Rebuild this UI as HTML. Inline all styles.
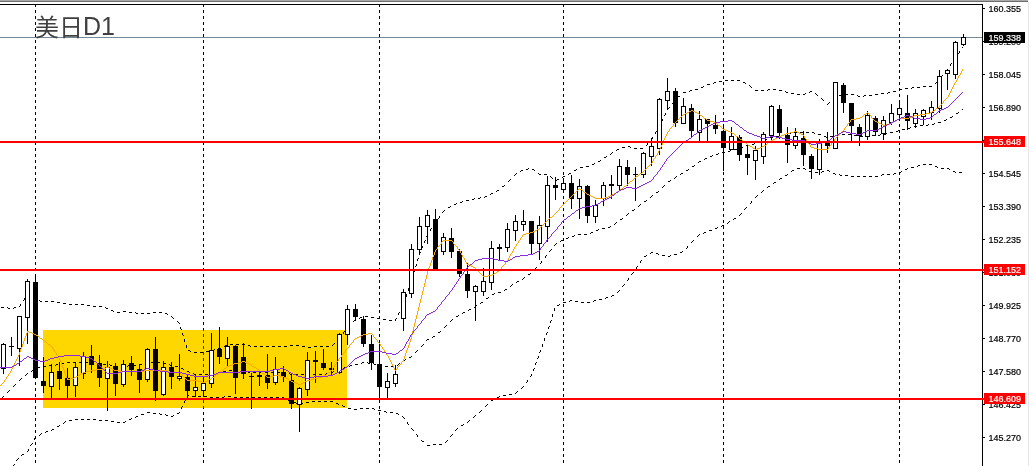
<!DOCTYPE html>
<html lang="zh"><head><meta charset="utf-8"><title>美日D1</title>
<style>html,body{margin:0;padding:0;background:#fff;overflow:hidden}body{width:1030px;height:466px;position:relative;font-family:"Liberation Sans","Noto Sans CJK SC",sans-serif}svg{position:absolute;left:0;top:0;display:block}.t{font-family:"Liberation Sans","Noto Sans CJK SC",sans-serif}</style></head><body>
<svg width="1030" height="466" viewBox="0 0 1030 466">
<rect x="0" y="0" width="1030" height="466" fill="#fff"/>
<rect x="0" y="0" width="1028" height="1" fill="#a9a9a9"/>
<rect x="0" y="1" width="1028" height="1" fill="#6d6d6d"/>
<rect x="1028" y="2" width="1" height="464" fill="#e6e6e6"/>
<g shape-rendering="crispEdges">
<clipPath id="c"><rect x="0" y="5" width="982" height="461"/></clipPath>
<g clip-path="url(#c)">
<rect x="43" y="330" width="304" height="78" fill="#ffd700"/>
<path d="M35.5 4v3M35.5 10v3M35.5 16v3M35.5 22v3M35.5 28v3M35.5 34v3M35.5 40v3M35.5 46v3M35.5 52v3M35.5 58v3M35.5 64v3M35.5 70v3M35.5 76v3M35.5 82v3M35.5 88v3M35.5 94v3M35.5 100v3M35.5 106v3M35.5 112v3M35.5 118v3M35.5 124v3M35.5 130v3M35.5 136v3M35.5 142v3M35.5 148v3M35.5 154v3M35.5 160v3M35.5 166v3M35.5 172v3M35.5 178v3M35.5 184v3M35.5 190v3M35.5 196v3M35.5 202v3M35.5 208v3M35.5 214v3M35.5 220v3M35.5 226v3M35.5 232v3M35.5 238v3M35.5 244v3M35.5 250v3M35.5 256v3M35.5 262v3M35.5 268v3M35.5 274v3M35.5 280v3M35.5 286v3M35.5 292v3M35.5 298v3M35.5 304v3M35.5 310v3M35.5 316v3M35.5 322v3M35.5 328v3M35.5 334v3M35.5 340v3M35.5 346v3M35.5 352v3M35.5 358v3M35.5 364v3M35.5 370v3M35.5 376v3M35.5 382v3M35.5 388v3M35.5 394v3M35.5 400v3M35.5 406v3M35.5 412v3M35.5 418v3M35.5 424v3M35.5 430v3M35.5 436v3M35.5 442v3M35.5 448v3M35.5 454v3M35.5 460v3" fill="none" stroke="#000" stroke-width="1"/>
<path d="M203.5 4v3M203.5 10v3M203.5 16v3M203.5 22v3M203.5 28v3M203.5 34v3M203.5 40v3M203.5 46v3M203.5 52v3M203.5 58v3M203.5 64v3M203.5 70v3M203.5 76v3M203.5 82v3M203.5 88v3M203.5 94v3M203.5 100v3M203.5 106v3M203.5 112v3M203.5 118v3M203.5 124v3M203.5 130v3M203.5 136v3M203.5 142v3M203.5 148v3M203.5 154v3M203.5 160v3M203.5 166v3M203.5 172v3M203.5 178v3M203.5 184v3M203.5 190v3M203.5 196v3M203.5 202v3M203.5 208v3M203.5 214v3M203.5 220v3M203.5 226v3M203.5 232v3M203.5 238v3M203.5 244v3M203.5 250v3M203.5 256v3M203.5 262v3M203.5 268v3M203.5 274v3M203.5 280v3M203.5 286v3M203.5 292v3M203.5 298v3M203.5 304v3M203.5 310v3M203.5 316v3M203.5 322v3M203.5 328v2M203.5 408v1M203.5 412v3M203.5 418v3M203.5 424v3M203.5 430v3M203.5 436v3M203.5 442v3M203.5 448v3M203.5 454v3M203.5 460v3" fill="none" stroke="#000" stroke-width="1"/>
<path d="M203.5 330v1M203.5 334v3M203.5 340v3M203.5 346v3M203.5 352v3M203.5 358v3M203.5 364v3M203.5 370v3M203.5 376v3M203.5 382v3M203.5 388v3M203.5 394v3M203.5 400v3M203.5 406v2" fill="none" stroke="#0028ff" stroke-width="1"/>
<path d="M379.5 4v3M379.5 10v3M379.5 16v3M379.5 22v3M379.5 28v3M379.5 34v3M379.5 40v3M379.5 46v3M379.5 52v3M379.5 58v3M379.5 64v3M379.5 70v3M379.5 76v3M379.5 82v3M379.5 88v3M379.5 94v3M379.5 100v3M379.5 106v3M379.5 112v3M379.5 118v3M379.5 124v3M379.5 130v3M379.5 136v3M379.5 142v3M379.5 148v3M379.5 154v3M379.5 160v3M379.5 166v3M379.5 172v3M379.5 178v3M379.5 184v3M379.5 190v3M379.5 196v3M379.5 202v3M379.5 208v3M379.5 214v3M379.5 220v3M379.5 226v3M379.5 232v3M379.5 238v3M379.5 244v3M379.5 250v3M379.5 256v3M379.5 262v3M379.5 268v3M379.5 274v3M379.5 280v3M379.5 286v3M379.5 292v3M379.5 298v3M379.5 304v3M379.5 310v3M379.5 316v3M379.5 322v3M379.5 328v3M379.5 334v3M379.5 340v3M379.5 346v3M379.5 352v3M379.5 358v3M379.5 364v3M379.5 370v3M379.5 376v3M379.5 382v3M379.5 388v3M379.5 394v3M379.5 400v3M379.5 406v3M379.5 412v3M379.5 418v3M379.5 424v3M379.5 430v3M379.5 436v3M379.5 442v3M379.5 448v3M379.5 454v3M379.5 460v3" fill="none" stroke="#000" stroke-width="1"/>
<path d="M563.5 4v3M563.5 10v3M563.5 16v3M563.5 22v3M563.5 28v3M563.5 34v3M563.5 40v3M563.5 46v3M563.5 52v3M563.5 58v3M563.5 64v3M563.5 70v3M563.5 76v3M563.5 82v3M563.5 88v3M563.5 94v3M563.5 100v3M563.5 106v3M563.5 112v3M563.5 118v3M563.5 124v3M563.5 130v3M563.5 136v3M563.5 142v3M563.5 148v3M563.5 154v3M563.5 160v3M563.5 166v3M563.5 172v3M563.5 178v3M563.5 184v3M563.5 190v3M563.5 196v3M563.5 202v3M563.5 208v3M563.5 214v3M563.5 220v3M563.5 226v3M563.5 232v3M563.5 238v3M563.5 244v3M563.5 250v3M563.5 256v3M563.5 262v3M563.5 268v3M563.5 274v3M563.5 280v3M563.5 286v3M563.5 292v3M563.5 298v3M563.5 304v3M563.5 310v3M563.5 316v3M563.5 322v3M563.5 328v3M563.5 334v3M563.5 340v3M563.5 346v3M563.5 352v3M563.5 358v3M563.5 364v3M563.5 370v3M563.5 376v3M563.5 382v3M563.5 388v3M563.5 394v3M563.5 400v3M563.5 406v3M563.5 412v3M563.5 418v3M563.5 424v3M563.5 430v3M563.5 436v3M563.5 442v3M563.5 448v3M563.5 454v3M563.5 460v3" fill="none" stroke="#000" stroke-width="1"/>
<path d="M723.5 4v3M723.5 10v3M723.5 16v3M723.5 22v3M723.5 28v3M723.5 34v3M723.5 40v3M723.5 46v3M723.5 52v3M723.5 58v3M723.5 64v3M723.5 70v3M723.5 76v3M723.5 82v3M723.5 88v3M723.5 94v3M723.5 100v3M723.5 106v3M723.5 112v3M723.5 118v3M723.5 124v3M723.5 130v3M723.5 136v3M723.5 142v3M723.5 148v3M723.5 154v3M723.5 160v3M723.5 166v3M723.5 172v3M723.5 178v3M723.5 184v3M723.5 190v3M723.5 196v3M723.5 202v3M723.5 208v3M723.5 214v3M723.5 220v3M723.5 226v3M723.5 232v3M723.5 238v3M723.5 244v3M723.5 250v3M723.5 256v3M723.5 262v3M723.5 268v3M723.5 274v3M723.5 280v3M723.5 286v3M723.5 292v3M723.5 298v3M723.5 304v3M723.5 310v3M723.5 316v3M723.5 322v3M723.5 328v3M723.5 334v3M723.5 340v3M723.5 346v3M723.5 352v3M723.5 358v3M723.5 364v3M723.5 370v3M723.5 376v3M723.5 382v3M723.5 388v3M723.5 394v3M723.5 400v3M723.5 406v3M723.5 412v3M723.5 418v3M723.5 424v3M723.5 430v3M723.5 436v3M723.5 442v3M723.5 448v3M723.5 454v3M723.5 460v3" fill="none" stroke="#000" stroke-width="1"/>
<path d="M899.5 4v3M899.5 10v3M899.5 16v3M899.5 22v3M899.5 28v3M899.5 34v3M899.5 40v3M899.5 46v3M899.5 52v3M899.5 58v3M899.5 64v3M899.5 70v3M899.5 76v3M899.5 82v3M899.5 88v3M899.5 94v3M899.5 100v3M899.5 106v3M899.5 112v3M899.5 118v3M899.5 124v3M899.5 130v3M899.5 136v3M899.5 142v3M899.5 148v3M899.5 154v3M899.5 160v3M899.5 166v3M899.5 172v3M899.5 178v3M899.5 184v3M899.5 190v3M899.5 196v3M899.5 202v3M899.5 208v3M899.5 214v3M899.5 220v3M899.5 226v3M899.5 232v3M899.5 238v3M899.5 244v3M899.5 250v3M899.5 256v3M899.5 262v3M899.5 268v3M899.5 274v3M899.5 280v3M899.5 286v3M899.5 292v3M899.5 298v3M899.5 304v3M899.5 310v3M899.5 316v3M899.5 322v3M899.5 328v3M899.5 334v3M899.5 340v3M899.5 346v3M899.5 352v3M899.5 358v3M899.5 364v3M899.5 370v3M899.5 376v3M899.5 382v3M899.5 388v3M899.5 394v3M899.5 400v3M899.5 406v3M899.5 412v3M899.5 418v3M899.5 424v3M899.5 430v3M899.5 436v3M899.5 442v3M899.5 448v3M899.5 454v3M899.5 460v3" fill="none" stroke="#000" stroke-width="1"/>
<rect x="0" y="37" width="982" height="1" fill="#778899"/>
<path d="M20.5 304v2M24.5 298v2M180.5 327v2M182.5 333v2M184.5 339v3M186.5 345v3M343.5 332v2M395.5 319v2M398.5 313v2M401.5 307v2M404.5 300v3M406.5 294v3M408.5 288v3M410.5 282v3M412.5 276v3M414.5 270v2M416.5 264v2M417.5 259v2M419.5 253v2M422.5 246v2M424.5 241v2M427.5 234v2M430.5 229v2M434.5 223v2M439.5 216v2M647.5 143v2M652.5 137v2M655.5 132v2M659.5 125v2M662.5 119v2M665.5 113v2M673.5 101v2M941.5 76v2M950.5 64v2M954.5 58v2M959.5 51v2M962 47.5h1M958 53.5h1M955 57.5h1M951 63.5h1M947 69.5h1M946 70.5h1M945 71.5h1M942 75.5h1M725 80.5h3M731 80.5h3M737 80.5h3M719 81.5h3M937 81.5h1M714 82.5h2M743 82.5h2M936 82.5h1M713 83.5h1M745 83.5h1M935 83.5h1M707 84.5h3M749 85.5h1M703 86.5h1M750 86.5h1M923 86.5h3M929 86.5h3M701 87.5h2M751 87.5h1M912 87.5h2M917 87.5h3M905 88.5h3M911 88.5h1M695 89.5h3M768 89.5h2M773 89.5h3M899 89.5h3M690 90.5h2M755 90.5h3M761 90.5h3M767 90.5h1M779 90.5h3M689 91.5h1M785 91.5h1M810 91.5h2M893 91.5h3M683 92.5h3M786 92.5h2M809 92.5h1M888 92.5h2M791 93.5h3M805 93.5h1M815 93.5h1M881 93.5h3M887 93.5h1M797 94.5h3M803 94.5h2M816 94.5h1M845 94.5h3M851 94.5h3M875 94.5h3M817 95.5h1M839 95.5h3M857 95.5h1M864 95.5h2M869 95.5h3M678 96.5h2M835 96.5h1M858 96.5h2M863 96.5h1M677 97.5h1M834 97.5h1M821 98.5h1M833 98.5h1M822 99.5h1M823 100.5h1M829 102.5h1M672 103.5h1M828 103.5h1M827 104.5h1M669 107.5h1M668 108.5h1M667 109.5h1M664 115.5h1M661 121.5h1M658 127.5h1M656 131.5h1M651 139.5h1M646 145.5h1M628 146.5h2M622 147.5h3M630 147.5h1M634 148.5h3M640 148.5h3M617 149.5h2M616 150.5h1M612 152.5h1M611 153.5h1M610 154.5h1M606 156.5h1M604 157.5h2M600 160.5h1M598 161.5h2M594 163.5h1M592 164.5h2M586 166.5h3M580 167.5h3M528 168.5h1M526 169.5h2M532 169.5h2M576 169.5h1M521 170.5h2M534 170.5h1M574 170.5h2M520 171.5h1M516 173.5h1M538 173.5h1M569 173.5h2M515 174.5h1M539 174.5h2M544 174.5h3M568 174.5h1M514 175.5h1M550 176.5h1M563 176.5h2M551 177.5h1M562 177.5h1M552 178.5h1M510 179.5h1M557 179.5h2M509 180.5h1M556 180.5h1M508 181.5h1M504 185.5h1M502 186.5h2M497 190.5h2M496 191.5h1M491 193.5h2M490 194.5h1M485 196.5h2M480 197.5h1M484 197.5h1M474 198.5h1M478 198.5h2M472 199.5h2M466 200.5h3M462 201.5h1M460 202.5h2M456 203.5h1M454 204.5h2M450 206.5h1M448 207.5h2M444 210.5h1M443 211.5h1M442 212.5h1M438 218.5h1M435 222.5h1M431 228.5h1M426 236.5h1M425 240.5h1M421 248.5h1M420 252.5h1M418 258.5h1M415 266.5h1M413 272.5h1M27 294.5h1M28 295.5h2M33 298.5h1M34 299.5h1M23 300.5h1M35 300.5h1M39 300.5h1M40 301.5h2M45 301.5h3M51 301.5h3M57 302.5h3M63 303.5h3M69 304.5h3M75 304.5h3M81 304.5h3M87 305.5h3M19 306.5h1M93 306.5h3M99 306.5h3M402 306.5h1M1 307.5h3M7 307.5h1M14 307.5h2M105 307.5h1M8 308.5h2M13 308.5h1M106 308.5h2M111 310.5h2M113 311.5h1M123 311.5h3M117 312.5h3M129 312.5h3M135 312.5h1M153 312.5h3M159 312.5h3M399 312.5h1M136 313.5h2M141 313.5h3M147 313.5h3M165 313.5h2M167 314.5h1M171 316.5h1M365 316.5h3M172 317.5h1M360 317.5h2M371 317.5h3M173 318.5h1M359 318.5h1M377 318.5h3M396 318.5h1M355 319.5h1M383 319.5h3M354 320.5h1M389 320.5h3M177 321.5h1M353 321.5h1M178 322.5h1M179 323.5h1M349 325.5h1M348 326.5h1M347 327.5h1M181 329.5h1M344 331.5h1M183 335.5h1M340 337.5h1M339 338.5h1M338 339.5h1M334 343.5h1M230 344.5h3M236 344.5h3M242 344.5h3M333 344.5h1M225 345.5h2M248 345.5h2M290 345.5h3M296 345.5h3M332 345.5h1M224 346.5h1M250 346.5h1M254 346.5h3M260 346.5h3M266 346.5h3M272 346.5h3M278 346.5h3M284 346.5h3M302 346.5h3M314 346.5h3M320 346.5h3M326 346.5h3M308 347.5h3M218 348.5h3M214 349.5h1M188 350.5h2M212 350.5h2M190 351.5h1M206 351.5h3M194 352.5h3M200 352.5h3" fill="none" stroke="#000" stroke-width="1"/>
<path d="M541.5 261v2M545.5 256v2M962 109.5h1M958 112.5h1M956 113.5h2M952 116.5h1M950 117.5h2M946 119.5h1M944 120.5h2M938 122.5h3M934 123.5h1M928 124.5h1M932 124.5h2M920 125.5h3M926 125.5h2M914 126.5h3M910 127.5h1M908 128.5h2M902 129.5h3M898 130.5h1M896 131.5h2M794 132.5h3M800 132.5h3M806 132.5h3M812 132.5h2M890 132.5h3M788 133.5h3M814 133.5h1M886 133.5h1M784 134.5h1M818 134.5h3M842 134.5h3M848 134.5h3M880 134.5h1M884 134.5h2M782 135.5h2M836 135.5h3M854 135.5h3M872 135.5h3M878 135.5h2M776 136.5h3M824 136.5h2M830 136.5h3M860 136.5h3M866 136.5h3M770 137.5h3M826 137.5h1M765 139.5h2M764 140.5h1M760 141.5h1M758 142.5h2M754 143.5h1M752 144.5h2M746 145.5h3M741 147.5h2M740 148.5h1M734 149.5h3M730 150.5h1M728 151.5h2M722 152.5h3M718 153.5h1M716 154.5h2M712 155.5h1M710 156.5h2M705 158.5h2M704 159.5h1M699 161.5h2M698 162.5h1M694 165.5h1M692 166.5h2M688 169.5h1M686 170.5h2M681 173.5h2M680 174.5h1M676 176.5h1M675 177.5h1M674 178.5h1M670 180.5h1M668 181.5h2M664 185.5h1M663 186.5h1M662 187.5h1M658 191.5h1M656 192.5h2M652 195.5h1M651 196.5h1M650 197.5h1M646 200.5h1M644 201.5h2M640 204.5h1M639 205.5h1M638 206.5h1M634 209.5h1M632 210.5h2M628 213.5h1M627 214.5h1M626 215.5h1M622 218.5h1M620 219.5h2M616 222.5h1M615 223.5h1M614 224.5h1M610 226.5h1M608 227.5h2M602 228.5h3M598 229.5h1M596 230.5h2M591 232.5h2M590 233.5h1M578 234.5h3M584 234.5h3M574 235.5h1M572 236.5h2M568 237.5h1M566 238.5h2M561 240.5h2M560 241.5h1M556 243.5h1M555 244.5h1M554 245.5h1M551 249.5h1M550 250.5h1M549 251.5h1M546 255.5h1M540 263.5h1M536 267.5h1M535 268.5h1M534 269.5h1M530 273.5h1M528 274.5h2M524 277.5h1M523 278.5h1M522 279.5h1M517 281.5h2M516 282.5h1M512 284.5h1M511 285.5h1M510 286.5h1M505 289.5h2M504 290.5h1M498 292.5h3M494 293.5h1M492 294.5h2M488 297.5h1M486 298.5h2M481 302.5h2M480 303.5h1M476 305.5h1M475 306.5h1M474 307.5h1M469 309.5h2M468 310.5h1M463 312.5h2M462 313.5h1M458 315.5h1M456 316.5h2M452 319.5h1M451 320.5h1M450 321.5h1M446 325.5h1M445 326.5h1M444 327.5h1M440 331.5h1M438 332.5h2M433 336.5h2M432 337.5h1M427 339.5h2M426 340.5h1M423 344.5h1M422 345.5h1M421 346.5h1M417 350.5h1M416 351.5h1M415 352.5h1M411 356.5h1M409 357.5h2M405 359.5h1M403 360.5h2M67 362.5h3M73 362.5h3M79 362.5h3M85 362.5h3M91 362.5h3M146 362.5h2M151 362.5h3M157 362.5h3M362 362.5h2M367 362.5h1M62 363.5h2M97 363.5h1M145 363.5h1M163 363.5h3M361 363.5h1M368 363.5h2M373 363.5h1M399 363.5h1M56 364.5h2M61 364.5h1M98 364.5h2M103 364.5h3M109 364.5h1M139 364.5h3M169 364.5h1M355 364.5h3M374 364.5h2M398 364.5h1M49 365.5h3M55 365.5h1M110 365.5h2M128 365.5h2M133 365.5h3M170 365.5h2M350 365.5h2M379 365.5h3M397 365.5h1M43 366.5h3M115 366.5h3M121 366.5h3M127 366.5h1M175 366.5h3M349 366.5h1M385 366.5h3M391 366.5h3M38 367.5h2M344 367.5h2M37 368.5h1M181 368.5h2M343 368.5h1M33 369.5h1M183 369.5h1M338 369.5h2M32 370.5h1M229 370.5h3M235 370.5h3M337 370.5h1M31 371.5h1M187 371.5h2M223 371.5h3M241 371.5h3M247 371.5h1M333 371.5h1M189 372.5h1M218 372.5h2M248 372.5h2M253 372.5h3M259 372.5h3M265 372.5h3M271 372.5h3M277 372.5h3M283 372.5h3M331 372.5h2M27 373.5h1M193 373.5h1M217 373.5h1M289 373.5h1M326 373.5h2M26 374.5h1M194 374.5h2M199 374.5h3M205 374.5h3M211 374.5h3M290 374.5h2M295 374.5h3M301 374.5h3M307 374.5h3M313 374.5h3M319 374.5h3M325 374.5h1M25 375.5h1M21 378.5h1M20 379.5h1M19 380.5h1M15 384.5h1M14 385.5h1M13 386.5h1M9 390.5h1M8 391.5h1M7 392.5h1M3 396.5h1M2 397.5h1M1 398.5h1" fill="none" stroke="#000" stroke-width="1"/>
<path d="M28.5 449v2M34.5 438v2M181.5 407v2M184.5 401v2M187.5 395v2M407.5 422v2M417.5 435v2M527.5 380v2M531.5 374v2M533.5 369v2M535.5 363v2M538.5 356v2M540.5 350v2M542.5 344v3M544.5 338v3M546.5 333v2M548.5 327v2M550.5 321v2M552.5 314v3M554.5 308v3M628.5 278v2M636.5 267v2M640.5 261v2M687.5 246v2M751.5 201v2M923 164.5h3M929 164.5h3M918 165.5h2M917 166.5h1M935 166.5h2M911 167.5h3M937 167.5h1M797 168.5h3M803 168.5h2M907 168.5h1M941 168.5h3M947 168.5h2M805 169.5h1M905 169.5h2M949 169.5h1M792 170.5h2M827 170.5h2M791 171.5h1M809 171.5h2M822 171.5h2M829 171.5h1M901 171.5h1M953 171.5h2M811 172.5h1M815 172.5h3M821 172.5h1M899 172.5h2M955 172.5h1M959 172.5h3M833 173.5h2M894 173.5h2M787 174.5h1M835 174.5h1M839 174.5h1M882 174.5h2M887 174.5h3M893 174.5h1M785 175.5h2M840 175.5h2M845 175.5h3M881 175.5h1M851 176.5h3M857 176.5h3M863 176.5h3M869 176.5h3M875 176.5h3M780 178.5h2M779 179.5h1M774 182.5h2M773 183.5h1M768 186.5h2M767 187.5h1M763 190.5h1M762 191.5h1M761 192.5h1M757 195.5h1M756 196.5h1M755 197.5h1M750 203.5h1M746 207.5h1M745 208.5h1M744 209.5h1M741 213.5h1M740 214.5h1M739 215.5h1M734 218.5h2M733 219.5h1M729 221.5h1M728 222.5h1M727 223.5h1M722 225.5h2M721 226.5h1M717 227.5h1M715 228.5h2M709 230.5h3M704 232.5h2M703 233.5h1M699 234.5h1M698 235.5h1M697 236.5h1M693 240.5h1M692 241.5h1M691 242.5h1M686 248.5h1M682 251.5h1M651 252.5h2M680 252.5h2M650 253.5h1M656 253.5h2M658 254.5h1M674 254.5h3M646 255.5h1M662 255.5h3M670 255.5h1M644 256.5h2M668 256.5h2M641 260.5h1M637 266.5h1M633 272.5h1M632 273.5h1M631 274.5h1M627 280.5h1M624 284.5h1M623 285.5h1M622 286.5h1M619 290.5h1M618 291.5h1M617 292.5h1M612 295.5h2M611 296.5h1M606 297.5h2M605 298.5h1M599 299.5h3M570 300.5h2M594 300.5h2M569 301.5h1M575 301.5h3M593 301.5h1M563 302.5h3M581 302.5h3M587 302.5h3M559 304.5h1M557 305.5h2M551 320.5h1M549 326.5h1M547 332.5h1M539 352.5h1M537 358.5h1M536 362.5h1M534 368.5h1M530 376.5h1M526 382.5h1M523 386.5h1M522 387.5h1M521 388.5h1M517 391.5h1M516 392.5h1M515 393.5h1M509 394.5h3M188 395.5h1M503 395.5h3M192 396.5h3M198 396.5h3M204 396.5h3M224 396.5h1M228 396.5h3M499 396.5h1M210 397.5h3M216 397.5h3M222 397.5h2M234 397.5h3M240 397.5h3M246 397.5h3M252 397.5h3M258 397.5h3M264 397.5h3M270 397.5h3M276 397.5h3M282 397.5h2M497 397.5h2M284 398.5h1M493 399.5h1M185 400.5h1M288 400.5h1M491 400.5h2M289 401.5h2M312 401.5h3M318 401.5h3M324 401.5h3M330 401.5h3M294 402.5h2M306 402.5h3M296 403.5h1M300 403.5h3M336 403.5h2M338 404.5h1M487 404.5h1M342 405.5h1M486 405.5h1M182 406.5h1M343 406.5h2M485 406.5h1M348 408.5h3M360 408.5h3M366 408.5h3M372 408.5h2M354 409.5h3M374 409.5h1M378 410.5h3M481 410.5h1M384 411.5h2M480 411.5h1M147 412.5h3M179 412.5h1M386 412.5h1M390 412.5h3M479 412.5h1M153 413.5h3M159 413.5h1M177 413.5h2M396 413.5h2M141 414.5h3M160 414.5h2M165 414.5h1M398 414.5h1M166 415.5h2M173 415.5h1M475 415.5h1M136 416.5h2M171 416.5h2M402 416.5h1M474 416.5h1M135 417.5h1M403 417.5h1M473 417.5h1M131 418.5h1M404 418.5h1M75 419.5h3M81 419.5h3M87 419.5h3M93 419.5h3M129 419.5h2M69 420.5h3M99 420.5h3M105 420.5h3M469 420.5h1M65 421.5h1M111 421.5h3M125 421.5h1M468 421.5h1M64 422.5h1M117 422.5h3M123 422.5h2M467 422.5h1M63 423.5h1M408 424.5h1M463 424.5h1M59 425.5h1M461 425.5h2M57 426.5h2M411 428.5h1M457 428.5h1M52 429.5h2M412 429.5h1M456 429.5h1M51 430.5h1M413 430.5h1M455 430.5h1M46 431.5h2M45 432.5h1M41 433.5h1M40 434.5h1M416 434.5h1M452 434.5h1M39 435.5h1M451 435.5h1M450 436.5h1M35 437.5h1M421 440.5h1M447 440.5h1M422 441.5h2M446 441.5h1M445 442.5h1M32 443.5h1M31 444.5h1M433 444.5h3M439 444.5h3M30 445.5h1M427 445.5h3M27 451.5h1M22 454.5h2M21 455.5h1M18 458.5h1M17 459.5h1M16 460.5h1M14 464.5h1M13 465.5h1M12 466.5h1" fill="none" stroke="#000" stroke-width="1"/>
<rect x="3" y="343" width="1" height="31" fill="#000"/>
<rect x="1" y="344" width="5" height="25" fill="#000"/>
<rect x="2" y="345" width="3" height="23" fill="#fff"/>
<rect x="11" y="337" width="1" height="19" fill="#000"/>
<rect x="9" y="346" width="5" height="1" fill="#000"/>
<rect x="19" y="316" width="1" height="50" fill="#000"/>
<rect x="17" y="316" width="5" height="33" fill="#000"/>
<rect x="18" y="317" width="3" height="31" fill="#fff"/>
<rect x="27" y="279" width="1" height="65" fill="#000"/>
<rect x="25" y="281" width="5" height="37" fill="#000"/>
<rect x="26" y="282" width="3" height="35" fill="#fff"/>
<rect x="35" y="274" width="1" height="105" fill="#000"/>
<rect x="33" y="282" width="5" height="96" fill="#000"/>
<rect x="43" y="357" width="1" height="36" fill="#000"/>
<rect x="41" y="381" width="5" height="5" fill="#000"/>
<rect x="51" y="364" width="1" height="35" fill="#000"/>
<rect x="49" y="372" width="5" height="15" fill="#000"/>
<rect x="50" y="373" width="3" height="13" fill="#fff"/>
<rect x="59" y="362" width="1" height="28" fill="#000"/>
<rect x="57" y="371" width="5" height="8" fill="#000"/>
<rect x="67" y="368" width="1" height="31" fill="#000"/>
<rect x="65" y="378" width="5" height="8" fill="#000"/>
<rect x="75" y="362" width="1" height="35" fill="#000"/>
<rect x="73" y="367" width="5" height="19" fill="#000"/>
<rect x="74" y="368" width="3" height="17" fill="#fff"/>
<rect x="83" y="352" width="1" height="27" fill="#000"/>
<rect x="81" y="356" width="5" height="18" fill="#000"/>
<rect x="82" y="357" width="3" height="16" fill="#fff"/>
<rect x="91" y="345" width="1" height="28" fill="#000"/>
<rect x="89" y="356" width="5" height="9" fill="#000"/>
<rect x="99" y="355" width="1" height="32" fill="#000"/>
<rect x="97" y="363" width="5" height="15" fill="#000"/>
<rect x="107" y="361" width="1" height="50" fill="#000"/>
<rect x="105" y="367" width="5" height="12" fill="#000"/>
<rect x="106" y="368" width="3" height="10" fill="#fff"/>
<rect x="115" y="363" width="1" height="33" fill="#000"/>
<rect x="113" y="366" width="5" height="18" fill="#000"/>
<rect x="123" y="360" width="1" height="27" fill="#000"/>
<rect x="121" y="364" width="5" height="21" fill="#000"/>
<rect x="122" y="365" width="3" height="19" fill="#fff"/>
<rect x="131" y="356" width="1" height="20" fill="#000"/>
<rect x="129" y="363" width="5" height="7" fill="#000"/>
<rect x="139" y="365" width="1" height="28" fill="#000"/>
<rect x="137" y="369" width="5" height="11" fill="#000"/>
<rect x="147" y="348" width="1" height="34" fill="#000"/>
<rect x="145" y="349" width="5" height="31" fill="#000"/>
<rect x="146" y="350" width="3" height="29" fill="#fff"/>
<rect x="155" y="337" width="1" height="64" fill="#000"/>
<rect x="153" y="349" width="5" height="42" fill="#000"/>
<rect x="163" y="361" width="1" height="35" fill="#000"/>
<rect x="161" y="367" width="5" height="28" fill="#000"/>
<rect x="162" y="368" width="3" height="26" fill="#fff"/>
<rect x="171" y="362" width="1" height="27" fill="#000"/>
<rect x="169" y="367" width="5" height="10" fill="#000"/>
<rect x="179" y="354" width="1" height="27" fill="#000"/>
<rect x="177" y="376" width="5" height="3" fill="#000"/>
<rect x="178" y="377" width="3" height="1" fill="#fff"/>
<rect x="187" y="374" width="1" height="25" fill="#000"/>
<rect x="185" y="377" width="5" height="14" fill="#000"/>
<rect x="195" y="375" width="1" height="22" fill="#000"/>
<rect x="193" y="387" width="5" height="4" fill="#000"/>
<rect x="194" y="388" width="3" height="2" fill="#fff"/>
<rect x="203" y="377" width="1" height="20" fill="#000"/>
<rect x="201" y="383" width="5" height="8" fill="#000"/>
<rect x="202" y="384" width="3" height="6" fill="#fff"/>
<rect x="211" y="333" width="1" height="55" fill="#000"/>
<rect x="209" y="350" width="5" height="34" fill="#000"/>
<rect x="210" y="351" width="3" height="32" fill="#fff"/>
<rect x="219" y="327" width="1" height="37" fill="#000"/>
<rect x="217" y="349" width="5" height="8" fill="#000"/>
<rect x="227" y="337" width="1" height="29" fill="#000"/>
<rect x="225" y="346" width="5" height="13" fill="#000"/>
<rect x="226" y="347" width="3" height="11" fill="#fff"/>
<rect x="235" y="345" width="1" height="49" fill="#000"/>
<rect x="233" y="346" width="5" height="32" fill="#000"/>
<rect x="243" y="343" width="1" height="36" fill="#000"/>
<rect x="241" y="357" width="5" height="17" fill="#000"/>
<rect x="251" y="373" width="1" height="36" fill="#000"/>
<rect x="249" y="376" width="5" height="1" fill="#000"/>
<rect x="259" y="372" width="1" height="14" fill="#000"/>
<rect x="257" y="375" width="5" height="2" fill="#000"/>
<rect x="267" y="354" width="1" height="35" fill="#000"/>
<rect x="265" y="375" width="5" height="8" fill="#000"/>
<rect x="275" y="357" width="1" height="28" fill="#000"/>
<rect x="273" y="369" width="5" height="14" fill="#000"/>
<rect x="274" y="370" width="3" height="12" fill="#fff"/>
<rect x="283" y="366" width="1" height="16" fill="#000"/>
<rect x="281" y="372" width="5" height="5" fill="#000"/>
<rect x="291" y="374" width="1" height="35" fill="#000"/>
<rect x="289" y="380" width="5" height="24" fill="#000"/>
<rect x="299" y="387" width="1" height="45" fill="#000"/>
<rect x="297" y="388" width="5" height="17" fill="#000"/>
<rect x="298" y="389" width="3" height="15" fill="#fff"/>
<rect x="307" y="352" width="1" height="44" fill="#000"/>
<rect x="305" y="360" width="5" height="30" fill="#000"/>
<rect x="306" y="361" width="3" height="28" fill="#fff"/>
<rect x="315" y="351" width="1" height="32" fill="#000"/>
<rect x="313" y="360" width="5" height="2" fill="#000"/>
<rect x="323" y="349" width="1" height="21" fill="#000"/>
<rect x="321" y="363" width="5" height="5" fill="#000"/>
<rect x="331" y="362" width="1" height="13" fill="#000"/>
<rect x="329" y="368" width="5" height="2" fill="#000"/>
<rect x="339" y="333" width="1" height="41" fill="#000"/>
<rect x="337" y="334" width="5" height="39" fill="#000"/>
<rect x="338" y="335" width="3" height="37" fill="#fff"/>
<rect x="347" y="305" width="1" height="40" fill="#000"/>
<rect x="345" y="309" width="5" height="26" fill="#000"/>
<rect x="346" y="310" width="3" height="24" fill="#fff"/>
<rect x="355" y="304" width="1" height="17" fill="#000"/>
<rect x="353" y="309" width="5" height="8" fill="#000"/>
<rect x="363" y="316" width="1" height="31" fill="#000"/>
<rect x="361" y="319" width="5" height="25" fill="#000"/>
<rect x="371" y="335" width="1" height="35" fill="#000"/>
<rect x="369" y="344" width="5" height="19" fill="#000"/>
<rect x="379" y="342" width="1" height="57" fill="#000"/>
<rect x="377" y="364" width="5" height="23" fill="#000"/>
<rect x="387" y="373" width="1" height="25" fill="#000"/>
<rect x="385" y="381" width="5" height="7" fill="#000"/>
<rect x="386" y="382" width="3" height="5" fill="#fff"/>
<rect x="395" y="365" width="1" height="22" fill="#000"/>
<rect x="393" y="374" width="5" height="10" fill="#000"/>
<rect x="394" y="375" width="3" height="8" fill="#fff"/>
<rect x="403" y="289" width="1" height="42" fill="#000"/>
<rect x="401" y="292" width="5" height="27" fill="#000"/>
<rect x="402" y="293" width="3" height="25" fill="#fff"/>
<rect x="411" y="244" width="1" height="54" fill="#000"/>
<rect x="409" y="249" width="5" height="45" fill="#000"/>
<rect x="410" y="250" width="3" height="43" fill="#fff"/>
<rect x="419" y="217" width="1" height="37" fill="#000"/>
<rect x="417" y="226" width="5" height="24" fill="#000"/>
<rect x="418" y="227" width="3" height="22" fill="#fff"/>
<rect x="427" y="210" width="1" height="34" fill="#000"/>
<rect x="425" y="215" width="5" height="12" fill="#000"/>
<rect x="426" y="216" width="3" height="10" fill="#fff"/>
<rect x="435" y="209" width="1" height="62" fill="#000"/>
<rect x="433" y="219" width="5" height="52" fill="#000"/>
<rect x="443" y="233" width="1" height="22" fill="#000"/>
<rect x="441" y="237" width="5" height="15" fill="#000"/>
<rect x="442" y="238" width="3" height="13" fill="#fff"/>
<rect x="451" y="228" width="1" height="30" fill="#000"/>
<rect x="449" y="238" width="5" height="14" fill="#000"/>
<rect x="459" y="249" width="1" height="28" fill="#000"/>
<rect x="457" y="251" width="5" height="23" fill="#000"/>
<rect x="467" y="263" width="1" height="35" fill="#000"/>
<rect x="465" y="274" width="5" height="17" fill="#000"/>
<rect x="475" y="285" width="1" height="36" fill="#000"/>
<rect x="473" y="286" width="5" height="6" fill="#000"/>
<rect x="474" y="287" width="3" height="4" fill="#fff"/>
<rect x="483" y="268" width="1" height="28" fill="#000"/>
<rect x="481" y="281" width="5" height="11" fill="#000"/>
<rect x="482" y="282" width="3" height="9" fill="#fff"/>
<rect x="491" y="241" width="1" height="49" fill="#000"/>
<rect x="489" y="248" width="5" height="35" fill="#000"/>
<rect x="490" y="249" width="3" height="33" fill="#fff"/>
<rect x="499" y="244" width="1" height="17" fill="#000"/>
<rect x="497" y="247" width="5" height="2" fill="#000"/>
<rect x="507" y="223" width="1" height="29" fill="#000"/>
<rect x="505" y="229" width="5" height="19" fill="#000"/>
<rect x="506" y="230" width="3" height="17" fill="#fff"/>
<rect x="515" y="215" width="1" height="26" fill="#000"/>
<rect x="513" y="221" width="5" height="10" fill="#000"/>
<rect x="514" y="222" width="3" height="8" fill="#fff"/>
<rect x="523" y="210" width="1" height="21" fill="#000"/>
<rect x="521" y="221" width="5" height="4" fill="#000"/>
<rect x="522" y="222" width="3" height="2" fill="#fff"/>
<rect x="531" y="221" width="1" height="33" fill="#000"/>
<rect x="529" y="221" width="5" height="23" fill="#000"/>
<rect x="539" y="216" width="1" height="44" fill="#000"/>
<rect x="537" y="225" width="5" height="19" fill="#000"/>
<rect x="538" y="226" width="3" height="17" fill="#fff"/>
<rect x="547" y="176" width="1" height="66" fill="#000"/>
<rect x="545" y="185" width="5" height="42" fill="#000"/>
<rect x="546" y="186" width="3" height="40" fill="#fff"/>
<rect x="555" y="177" width="1" height="23" fill="#000"/>
<rect x="553" y="185" width="5" height="3" fill="#000"/>
<rect x="563" y="178" width="1" height="12" fill="#000"/>
<rect x="561" y="183" width="5" height="7" fill="#000"/>
<rect x="562" y="184" width="3" height="5" fill="#fff"/>
<rect x="571" y="175" width="1" height="34" fill="#000"/>
<rect x="569" y="183" width="5" height="16" fill="#000"/>
<rect x="579" y="179" width="1" height="40" fill="#000"/>
<rect x="577" y="186" width="5" height="13" fill="#000"/>
<rect x="578" y="187" width="3" height="11" fill="#fff"/>
<rect x="587" y="185" width="1" height="38" fill="#000"/>
<rect x="585" y="186" width="5" height="30" fill="#000"/>
<rect x="595" y="200" width="1" height="23" fill="#000"/>
<rect x="593" y="205" width="5" height="12" fill="#000"/>
<rect x="594" y="206" width="3" height="10" fill="#fff"/>
<rect x="603" y="182" width="1" height="24" fill="#000"/>
<rect x="601" y="185" width="5" height="14" fill="#000"/>
<rect x="602" y="186" width="3" height="12" fill="#fff"/>
<rect x="611" y="175" width="1" height="24" fill="#000"/>
<rect x="609" y="184" width="5" height="2" fill="#000"/>
<rect x="619" y="159" width="1" height="31" fill="#000"/>
<rect x="617" y="166" width="5" height="20" fill="#000"/>
<rect x="618" y="167" width="3" height="18" fill="#fff"/>
<rect x="627" y="160" width="1" height="26" fill="#000"/>
<rect x="625" y="167" width="5" height="8" fill="#000"/>
<rect x="635" y="167" width="1" height="34" fill="#000"/>
<rect x="633" y="174" width="5" height="1" fill="#000"/>
<rect x="643" y="152" width="1" height="26" fill="#000"/>
<rect x="641" y="153" width="5" height="22" fill="#000"/>
<rect x="642" y="154" width="3" height="20" fill="#fff"/>
<rect x="651" y="138" width="1" height="28" fill="#000"/>
<rect x="649" y="146" width="5" height="11" fill="#000"/>
<rect x="650" y="147" width="3" height="9" fill="#fff"/>
<rect x="659" y="98" width="1" height="57" fill="#000"/>
<rect x="657" y="99" width="5" height="50" fill="#000"/>
<rect x="658" y="100" width="3" height="48" fill="#fff"/>
<rect x="667" y="78" width="1" height="31" fill="#000"/>
<rect x="665" y="91" width="5" height="10" fill="#000"/>
<rect x="666" y="92" width="3" height="8" fill="#fff"/>
<rect x="675" y="88" width="1" height="39" fill="#000"/>
<rect x="673" y="91" width="5" height="32" fill="#000"/>
<rect x="683" y="98" width="1" height="26" fill="#000"/>
<rect x="681" y="106" width="5" height="18" fill="#000"/>
<rect x="682" y="107" width="3" height="16" fill="#fff"/>
<rect x="691" y="104" width="1" height="34" fill="#000"/>
<rect x="689" y="108" width="5" height="23" fill="#000"/>
<rect x="699" y="111" width="1" height="31" fill="#000"/>
<rect x="697" y="119" width="5" height="14" fill="#000"/>
<rect x="698" y="120" width="3" height="12" fill="#fff"/>
<rect x="707" y="119" width="1" height="23" fill="#000"/>
<rect x="705" y="119" width="5" height="5" fill="#000"/>
<rect x="715" y="115" width="1" height="19" fill="#000"/>
<rect x="713" y="125" width="5" height="4" fill="#000"/>
<rect x="723" y="127" width="1" height="44" fill="#000"/>
<rect x="721" y="131" width="5" height="17" fill="#000"/>
<rect x="731" y="127" width="1" height="23" fill="#000"/>
<rect x="729" y="136" width="5" height="14" fill="#000"/>
<rect x="730" y="137" width="3" height="12" fill="#fff"/>
<rect x="739" y="135" width="1" height="26" fill="#000"/>
<rect x="737" y="137" width="5" height="18" fill="#000"/>
<rect x="747" y="145" width="1" height="30" fill="#000"/>
<rect x="745" y="154" width="5" height="4" fill="#000"/>
<rect x="755" y="146" width="1" height="34" fill="#000"/>
<rect x="753" y="150" width="5" height="11" fill="#000"/>
<rect x="754" y="151" width="3" height="9" fill="#fff"/>
<rect x="763" y="132" width="1" height="32" fill="#000"/>
<rect x="761" y="134" width="5" height="23" fill="#000"/>
<rect x="762" y="135" width="3" height="21" fill="#fff"/>
<rect x="771" y="105" width="1" height="36" fill="#000"/>
<rect x="769" y="106" width="5" height="30" fill="#000"/>
<rect x="770" y="107" width="3" height="28" fill="#fff"/>
<rect x="779" y="105" width="1" height="34" fill="#000"/>
<rect x="777" y="109" width="5" height="24" fill="#000"/>
<rect x="787" y="127" width="1" height="36" fill="#000"/>
<rect x="785" y="135" width="5" height="10" fill="#000"/>
<rect x="795" y="128" width="1" height="21" fill="#000"/>
<rect x="793" y="136" width="5" height="10" fill="#000"/>
<rect x="794" y="137" width="3" height="8" fill="#fff"/>
<rect x="803" y="131" width="1" height="35" fill="#000"/>
<rect x="801" y="138" width="5" height="17" fill="#000"/>
<rect x="811" y="154" width="1" height="25" fill="#000"/>
<rect x="809" y="156" width="5" height="13" fill="#000"/>
<rect x="819" y="139" width="1" height="36" fill="#000"/>
<rect x="817" y="141" width="5" height="29" fill="#000"/>
<rect x="818" y="142" width="3" height="27" fill="#fff"/>
<rect x="827" y="132" width="1" height="21" fill="#000"/>
<rect x="825" y="141" width="5" height="5" fill="#000"/>
<rect x="835" y="82" width="1" height="67" fill="#000"/>
<rect x="833" y="82" width="5" height="67" fill="#000"/>
<rect x="834" y="83" width="3" height="65" fill="#fff"/>
<rect x="843" y="83" width="1" height="30" fill="#000"/>
<rect x="841" y="85" width="5" height="18" fill="#000"/>
<rect x="851" y="103" width="1" height="39" fill="#000"/>
<rect x="849" y="103" width="5" height="23" fill="#000"/>
<rect x="859" y="124" width="1" height="22" fill="#000"/>
<rect x="857" y="127" width="5" height="9" fill="#000"/>
<rect x="867" y="111" width="1" height="29" fill="#000"/>
<rect x="865" y="115" width="5" height="22" fill="#000"/>
<rect x="866" y="116" width="3" height="20" fill="#fff"/>
<rect x="875" y="116" width="1" height="20" fill="#000"/>
<rect x="873" y="118" width="5" height="14" fill="#000"/>
<rect x="883" y="116" width="1" height="24" fill="#000"/>
<rect x="881" y="120" width="5" height="14" fill="#000"/>
<rect x="882" y="121" width="3" height="12" fill="#fff"/>
<rect x="891" y="104" width="1" height="21" fill="#000"/>
<rect x="889" y="113" width="5" height="10" fill="#000"/>
<rect x="890" y="114" width="3" height="8" fill="#fff"/>
<rect x="899" y="100" width="1" height="20" fill="#000"/>
<rect x="897" y="108" width="5" height="7" fill="#000"/>
<rect x="898" y="109" width="3" height="5" fill="#fff"/>
<rect x="907" y="95" width="1" height="35" fill="#000"/>
<rect x="905" y="113" width="5" height="8" fill="#000"/>
<rect x="915" y="109" width="1" height="19" fill="#000"/>
<rect x="913" y="113" width="5" height="11" fill="#000"/>
<rect x="914" y="114" width="3" height="9" fill="#fff"/>
<rect x="923" y="109" width="1" height="16" fill="#000"/>
<rect x="921" y="110" width="5" height="7" fill="#000"/>
<rect x="922" y="111" width="3" height="5" fill="#fff"/>
<rect x="931" y="101" width="1" height="19" fill="#000"/>
<rect x="929" y="107" width="5" height="6" fill="#000"/>
<rect x="930" y="108" width="3" height="4" fill="#fff"/>
<rect x="939" y="70" width="1" height="43" fill="#000"/>
<rect x="937" y="76" width="5" height="33" fill="#000"/>
<rect x="938" y="77" width="3" height="31" fill="#fff"/>
<rect x="947" y="69" width="1" height="21" fill="#000"/>
<rect x="945" y="70" width="5" height="4" fill="#000"/>
<rect x="946" y="71" width="3" height="2" fill="#fff"/>
<rect x="955" y="41" width="1" height="38" fill="#000"/>
<rect x="953" y="42" width="5" height="33" fill="#000"/>
<rect x="954" y="43" width="3" height="31" fill="#fff"/>
<rect x="963" y="34" width="1" height="12" fill="#000"/>
<rect x="961" y="37" width="5" height="8" fill="#000"/>
<rect x="962" y="38" width="3" height="6" fill="#fff"/>
<path d="M4.5 380v2M6.5 377v2M8.5 374v2M10.5 371v2M11.5 369v2M12.5 367v2M13.5 365v2M14.5 363v2M15.5 361v2M16.5 359v2M17.5 357v2M18.5 355v2M19.5 352v3M20.5 349v3M21.5 347v2M22.5 344v3M23.5 341v3M24.5 338v3M25.5 336v2M26.5 333v3M27.5 331v2M52.5 347v2M54.5 350v2M56.5 353v2M58.5 356v2M59.5 358v2M60.5 360v2M61.5 362v3M62.5 365v3M63.5 368v2M64.5 370v3M65.5 373v3M66.5 376v2M67.5 378v2M332.5 368v2M334.5 365v2M336.5 362v2M338.5 359v2M341.5 355v2M345.5 350v2M349.5 345v2M353.5 340v2M373.5 335v2M377.5 340v2M380.5 344v2M382.5 347v2M384.5 350v2M386.5 353v2M388.5 356v2M389.5 358v2M390.5 360v2M391.5 362v2M392.5 364v2M393.5 366v2M394.5 368v2M397.5 367v2M401.5 362v2M403.5 359v2M404.5 356v3M405.5 353v3M406.5 350v3M407.5 348v2M408.5 345v3M409.5 342v3M410.5 339v3M411.5 335v4M412.5 331v4M413.5 327v4M414.5 323v4M415.5 319v4M416.5 315v4M417.5 311v4M418.5 307v4M419.5 303v4M420.5 299v4M421.5 295v4M422.5 291v4M423.5 287v4M424.5 283v4M425.5 279v4M426.5 275v4M427.5 271v4M428.5 268v3M429.5 266v2M430.5 263v3M431.5 260v3M432.5 257v3M433.5 255v2M434.5 252v3M435.5 250v2M437.5 247v2M441.5 242v2M453.5 242v2M457.5 247v2M460.5 251v2M461.5 253v2M462.5 255v2M464.5 258v2M465.5 260v2M466.5 262v2M501.5 267v2M505.5 262v2M508.5 258v2M509.5 256v2M510.5 254v2M512.5 251v2M513.5 249v2M514.5 247v2M516.5 244v2M518.5 241v2M520.5 238v2M522.5 235v2M559.5 208v2M652.5 161v2M653.5 159v2M655.5 156v2M657.5 153v2M658.5 151v2M659.5 149v2M660.5 147v2M661.5 145v2M662.5 143v2M663.5 140v3M664.5 138v2M665.5 136v2M666.5 134v2M667.5 132v2M669.5 129v2M673.5 124v2M804.5 136v2M806.5 139v2M808.5 142v2M810.5 145v2M828.5 147v2M831.5 143v2M834.5 139v2M844.5 128v2M847.5 124v2M850.5 120v2M871.5 116v2M943.5 101v2M948.5 95v2M949.5 93v2M950.5 91v2M951.5 89v2M952.5 87v2M953.5 85v2M954.5 83v2M956.5 80v2M957.5 78v2M958.5 76v2M960.5 73v2M961.5 71v2M962.5 69v2M959 75.5h1M955 82.5h1M947 97.5h1M946 98.5h1M945 99.5h1M944 100.5h1M942 103.5h1M941 104.5h1M940 105.5h1M939 106.5h1M938 107.5h1M936 108.5h2M935 109.5h1M691 110.5h2M934 110.5h1M689 111.5h2M693 111.5h2M932 111.5h2M687 112.5h2M695 112.5h2M867 112.5h1M930 112.5h2M685 113.5h2M697 113.5h2M866 113.5h1M868 113.5h1M926 113.5h4M683 114.5h2M699 114.5h1M864 114.5h2M869 114.5h1M920 114.5h6M682 115.5h1M700 115.5h2M863 115.5h1M870 115.5h1M914 115.5h6M681 116.5h1M702 116.5h1M862 116.5h1M912 116.5h2M680 117.5h1M703 117.5h1M860 117.5h2M909 117.5h3M679 118.5h1M704 118.5h2M856 118.5h4M872 118.5h1M899 118.5h10M678 119.5h1M706 119.5h1M851 119.5h5M873 119.5h1M897 119.5h2M677 120.5h1M707 120.5h3M874 120.5h1M896 120.5h1M676 121.5h1M710 121.5h4M875 121.5h2M894 121.5h2M675 122.5h1M714 122.5h2M849 122.5h1M877 122.5h2M892 122.5h2M674 123.5h1M716 123.5h1M848 123.5h1M879 123.5h2M890 123.5h2M717 124.5h1M881 124.5h2M886 124.5h4M718 125.5h2M883 125.5h3M672 126.5h1M720 126.5h1M846 126.5h1M671 127.5h1M721 127.5h1M845 127.5h1M670 128.5h1M722 128.5h1M723 129.5h2M725 130.5h3M843 130.5h1M668 131.5h1M728 131.5h2M794 131.5h3M842 131.5h1M730 132.5h2M790 132.5h4M797 132.5h2M841 132.5h1M732 133.5h2M786 133.5h4M799 133.5h2M840 133.5h1M734 134.5h1M784 134.5h2M801 134.5h2M839 134.5h1M735 135.5h1M781 135.5h3M803 135.5h1M838 135.5h1M736 136.5h2M779 136.5h2M837 136.5h1M738 137.5h1M777 137.5h2M836 137.5h1M739 138.5h1M775 138.5h2M805 138.5h1M835 138.5h1M740 139.5h2M773 139.5h2M742 140.5h1M771 140.5h2M743 141.5h1M770 141.5h1M807 141.5h1M833 141.5h1M744 142.5h2M768 142.5h2M832 142.5h1M746 143.5h1M767 143.5h1M747 144.5h1M766 144.5h1M809 144.5h1M748 145.5h2M764 145.5h2M830 145.5h1M750 146.5h2M762 146.5h2M829 146.5h1M752 147.5h1M760 147.5h2M811 147.5h3M753 148.5h2M757 148.5h3M814 148.5h4M755 149.5h2M818 149.5h10M656 155.5h1M654 158.5h1M651 163.5h1M650 164.5h1M649 165.5h1M648 166.5h1M647 167.5h1M646 168.5h1M645 169.5h1M644 170.5h1M643 171.5h1M642 172.5h1M640 173.5h2M639 174.5h1M638 175.5h1M636 176.5h2M635 177.5h1M634 178.5h1M633 179.5h1M632 180.5h1M630 181.5h2M629 182.5h1M628 183.5h1M627 184.5h1M626 185.5h1M624 186.5h2M623 187.5h1M579 188.5h1M622 188.5h1M578 189.5h1M580 189.5h2M620 189.5h2M577 190.5h1M582 190.5h1M619 190.5h1M576 191.5h1M583 191.5h1M617 191.5h2M575 192.5h1M584 192.5h2M616 192.5h1M574 193.5h1M586 193.5h1M614 193.5h2M573 194.5h1M587 194.5h2M612 194.5h2M572 195.5h1M589 195.5h2M610 195.5h2M571 196.5h1M591 196.5h2M608 196.5h2M570 197.5h1M593 197.5h2M605 197.5h3M569 198.5h1M595 198.5h10M568 199.5h1M567 200.5h1M566 201.5h1M565 202.5h1M564 203.5h1M563 204.5h1M562 205.5h1M561 206.5h1M560 207.5h1M558 210.5h1M557 211.5h1M556 212.5h1M555 213.5h1M554 214.5h1M553 215.5h1M552 216.5h1M550 217.5h2M549 218.5h1M548 219.5h1M547 220.5h1M546 221.5h1M545 222.5h1M544 223.5h1M543 224.5h1M542 225.5h1M541 226.5h1M540 227.5h1M539 228.5h1M537 229.5h2M535 230.5h2M533 231.5h2M530 232.5h3M526 233.5h4M523 234.5h3M521 237.5h1M443 240.5h9M519 240.5h1M442 241.5h1M452 241.5h1M517 243.5h1M440 244.5h1M454 244.5h1M439 245.5h1M455 245.5h1M438 246.5h1M456 246.5h1M515 246.5h1M436 249.5h1M458 249.5h1M459 250.5h1M511 253.5h1M463 257.5h1M507 260.5h1M506 261.5h1M467 264.5h2M504 264.5h1M469 265.5h2M503 265.5h1M471 266.5h2M502 266.5h1M473 267.5h2M475 268.5h1M476 269.5h1M500 269.5h1M477 270.5h1M499 270.5h1M478 271.5h1M497 271.5h2M479 272.5h1M496 272.5h1M480 273.5h1M494 273.5h2M481 274.5h1M492 274.5h2M482 275.5h1M488 275.5h4M483 276.5h5M28 331.5h1M29 332.5h3M32 333.5h2M368 333.5h4M34 334.5h2M363 334.5h5M372 334.5h1M36 335.5h2M361 335.5h2M38 336.5h1M359 336.5h2M39 337.5h1M357 337.5h2M374 337.5h1M40 338.5h2M355 338.5h2M375 338.5h1M42 339.5h1M354 339.5h1M376 339.5h1M43 340.5h1M44 341.5h2M46 342.5h1M352 342.5h1M378 342.5h1M47 343.5h1M351 343.5h1M379 343.5h1M48 344.5h2M350 344.5h1M50 345.5h1M51 346.5h1M381 346.5h1M348 347.5h1M347 348.5h1M53 349.5h1M346 349.5h1M383 349.5h1M55 352.5h1M344 352.5h1M385 352.5h1M343 353.5h1M342 354.5h1M57 355.5h1M387 355.5h1M340 357.5h1M339 358.5h1M242 361.5h3M337 361.5h1M402 361.5h1M238 362.5h4M245 362.5h2M234 363.5h4M247 363.5h2M232 364.5h2M249 364.5h2M335 364.5h1M400 364.5h1M229 365.5h3M251 365.5h1M399 365.5h1M227 366.5h2M252 366.5h2M398 366.5h1M106 367.5h3M226 367.5h1M254 367.5h2M333 367.5h1M102 368.5h4M109 368.5h3M224 368.5h2M256 368.5h1M96 369.5h6M112 369.5h2M223 369.5h1M257 369.5h2M396 369.5h1M90 370.5h6M114 370.5h6M144 370.5h22M222 370.5h1M259 370.5h1M331 370.5h1M395 370.5h1M86 371.5h4M120 371.5h24M166 371.5h4M220 371.5h2M260 371.5h1M330 371.5h1M83 372.5h3M170 372.5h10M219 372.5h1M261 372.5h1M328 372.5h2M9 373.5h1M81 373.5h2M180 373.5h1M218 373.5h1M262 373.5h2M327 373.5h1M80 374.5h1M181 374.5h1M216 374.5h2M264 374.5h1M326 374.5h1M78 375.5h2M182 375.5h1M215 375.5h1M265 375.5h1M274 375.5h6M324 375.5h2M7 376.5h1M76 376.5h2M183 376.5h1M214 376.5h1M266 376.5h1M270 376.5h4M280 376.5h4M322 376.5h2M74 377.5h2M184 377.5h1M212 377.5h2M267 377.5h3M284 377.5h2M318 377.5h4M70 378.5h4M185 378.5h1M211 378.5h1M286 378.5h2M314 378.5h4M5 379.5h1M68 379.5h2M186 379.5h1M209 379.5h2M288 379.5h1M310 379.5h4M187 380.5h11M207 380.5h2M289 380.5h2M307 380.5h3M198 381.5h4M205 381.5h2M291 381.5h2M305 381.5h2M3 382.5h1M202 382.5h3M293 382.5h3M303 382.5h2M2 383.5h1M296 383.5h2M301 383.5h2M1 384.5h1M298 384.5h3M0 385.5h1M-1 386.5h1M-2 387.5h1" fill="none" stroke="#ffa500" stroke-width="1"/>
<path d="M404.5 346v2M405.5 344v2M406.5 342v2M408.5 339v2M409.5 337v2M410.5 335v2M413.5 331v2M417.5 326v2M421.5 321v2M425.5 316v2M437.5 307v2M441.5 302v2M445.5 297v2M449.5 292v2M452.5 288v2M454.5 285v2M456.5 282v2M458.5 279v2M460.5 276v2M463.5 272v2M466.5 268v2M540.5 248v2M543.5 244v2M546.5 240v2M551.5 234v2M557.5 227v2M561.5 222v2M653.5 177v2M657.5 172v2M660.5 168v2M662.5 165v2M664.5 162v2M666.5 159v2M962 92.5h1M961 93.5h1M960 94.5h1M959 95.5h1M958 96.5h1M957 97.5h1M956 98.5h1M955 99.5h1M954 100.5h1M953 101.5h1M952 102.5h1M951 103.5h1M950 104.5h1M949 105.5h1M948 106.5h1M946 107.5h2M944 108.5h2M941 109.5h3M939 110.5h2M938 111.5h1M937 112.5h1M936 113.5h1M934 114.5h2M906 115.5h3M933 115.5h1M904 116.5h2M909 116.5h3M932 116.5h1M901 117.5h3M912 117.5h2M930 117.5h2M899 118.5h2M914 118.5h6M926 118.5h4M897 119.5h2M920 119.5h6M728 120.5h4M895 120.5h2M720 121.5h8M732 121.5h2M893 121.5h2M715 122.5h5M734 122.5h1M891 122.5h2M713 123.5h2M735 123.5h1M889 123.5h2M711 124.5h2M736 124.5h2M887 124.5h2M709 125.5h2M738 125.5h1M885 125.5h2M707 126.5h2M739 126.5h1M883 126.5h2M705 127.5h2M740 127.5h2M881 127.5h2M703 128.5h2M742 128.5h1M879 128.5h2M701 129.5h2M743 129.5h1M877 129.5h2M699 130.5h2M744 130.5h2M867 130.5h10M698 131.5h1M746 131.5h1M843 131.5h3M865 131.5h2M697 132.5h1M747 132.5h2M841 132.5h2M846 132.5h4M863 132.5h2M696 133.5h1M749 133.5h3M839 133.5h2M850 133.5h6M861 133.5h2M694 134.5h2M752 134.5h2M837 134.5h2M856 134.5h5M693 135.5h1M754 135.5h3M835 135.5h2M692 136.5h1M757 136.5h3M770 136.5h6M834 136.5h1M691 137.5h1M760 137.5h2M766 137.5h4M776 137.5h6M832 137.5h2M689 138.5h2M762 138.5h4M782 138.5h4M831 138.5h1M688 139.5h1M786 139.5h6M830 139.5h1M686 140.5h2M792 140.5h13M828 140.5h2M684 141.5h2M805 141.5h2M826 141.5h2M683 142.5h1M807 142.5h2M822 142.5h4M682 143.5h1M809 143.5h2M816 143.5h6M681 144.5h1M811 144.5h5M680 145.5h1M679 146.5h1M678 147.5h1M677 148.5h1M676 149.5h1M675 150.5h1M674 151.5h1M673 152.5h1M672 153.5h1M671 154.5h1M670 155.5h1M669 156.5h1M668 157.5h1M667 158.5h1M665 161.5h1M663 164.5h1M661 167.5h1M659 170.5h1M658 171.5h1M656 174.5h1M655 175.5h1M654 176.5h1M652 179.5h1M651 180.5h1M649 181.5h2M647 182.5h2M645 183.5h2M643 184.5h2M641 185.5h2M639 186.5h2M626 187.5h6M637 187.5h2M624 188.5h2M632 188.5h5M621 189.5h3M619 190.5h2M618 191.5h1M616 192.5h2M615 193.5h1M614 194.5h1M612 195.5h2M611 196.5h1M609 197.5h2M607 198.5h2M605 199.5h2M603 200.5h2M601 201.5h2M600 202.5h1M598 203.5h2M596 204.5h2M592 205.5h4M586 206.5h6M582 207.5h4M579 208.5h3M578 209.5h1M576 210.5h2M575 211.5h1M574 212.5h1M572 213.5h2M571 214.5h1M570 215.5h1M568 216.5h2M567 217.5h1M566 218.5h1M564 219.5h2M563 220.5h1M562 221.5h1M560 224.5h1M559 225.5h1M558 226.5h1M556 229.5h1M555 230.5h1M554 231.5h1M553 232.5h1M552 233.5h1M550 236.5h1M549 237.5h1M548 238.5h1M547 239.5h1M545 242.5h1M544 243.5h1M542 246.5h1M541 247.5h1M539 250.5h1M537 251.5h2M535 252.5h2M533 253.5h2M528 254.5h5M520 255.5h8M515 256.5h5M513 257.5h2M482 258.5h12M512 258.5h1M478 259.5h4M494 259.5h4M510 259.5h2M475 260.5h3M498 260.5h6M508 260.5h2M474 261.5h1M504 261.5h4M473 262.5h1M472 263.5h1M470 264.5h2M469 265.5h1M468 266.5h1M467 267.5h1M465 270.5h1M464 271.5h1M462 274.5h1M461 275.5h1M459 278.5h1M457 281.5h1M455 284.5h1M453 287.5h1M451 290.5h1M450 291.5h1M448 294.5h1M447 295.5h1M446 296.5h1M444 299.5h1M443 300.5h1M442 301.5h1M440 304.5h1M439 305.5h1M438 306.5h1M436 309.5h1M435 310.5h1M433 311.5h2M431 312.5h2M429 313.5h2M427 314.5h2M426 315.5h1M424 318.5h1M423 319.5h1M422 320.5h1M420 323.5h1M419 324.5h1M418 325.5h1M416 328.5h1M415 329.5h1M414 330.5h1M412 333.5h1M411 334.5h1M407 341.5h1M403 348.5h1M402 349.5h1M400 350.5h2M370 351.5h12M399 351.5h1M368 352.5h2M382 352.5h4M398 352.5h1M365 353.5h3M386 353.5h6M396 353.5h2M363 354.5h2M392 354.5h4M64 355.5h16M361 355.5h2M27 356.5h2M58 356.5h6M80 356.5h6M359 356.5h2M26 357.5h1M29 357.5h2M54 357.5h4M86 357.5h4M357 357.5h2M24 358.5h2M31 358.5h2M50 358.5h4M90 358.5h2M355 358.5h2M23 359.5h1M33 359.5h2M48 359.5h2M92 359.5h1M354 359.5h1M22 360.5h1M35 360.5h5M45 360.5h3M93 360.5h1M353 360.5h1M20 361.5h2M40 361.5h5M94 361.5h2M352 361.5h1M19 362.5h1M96 362.5h1M351 362.5h1M17 363.5h2M97 363.5h1M350 363.5h1M16 364.5h1M98 364.5h1M349 364.5h1M14 365.5h2M99 365.5h1M348 365.5h1M12 366.5h2M100 366.5h1M347 366.5h1M-2 367.5h14M101 367.5h1M345 367.5h2M102 368.5h1M146 368.5h4M280 368.5h4M344 368.5h1M103 369.5h1M144 369.5h2M150 369.5h4M274 369.5h6M284 369.5h2M342 369.5h2M104 370.5h1M141 370.5h3M154 370.5h6M270 370.5h4M286 370.5h2M340 370.5h2M105 371.5h1M122 371.5h19M160 371.5h8M240 371.5h30M288 371.5h1M339 371.5h1M106 372.5h1M118 372.5h4M168 372.5h14M218 372.5h22M289 372.5h2M337 372.5h2M107 373.5h11M182 373.5h4M216 373.5h2M291 373.5h2M335 373.5h2M186 374.5h4M213 374.5h3M293 374.5h3M333 374.5h2M190 375.5h4M208 375.5h5M296 375.5h2M328 375.5h5M194 376.5h14M298 376.5h4M314 376.5h14M302 377.5h4M310 377.5h4M306 378.5h4" fill="none" stroke="#8a2be2" stroke-width="1"/>
</g>
<rect x="0" y="4" width="983" height="1" fill="#000"/>
<rect x="982" y="4" width="1" height="462" fill="#000"/>
<rect x="0" y="141" width="984" height="2" fill="#ff0000"/>
<rect x="0" y="269" width="984" height="2" fill="#ff0000"/>
<rect x="0" y="398" width="984" height="2" fill="#ff0000"/>
<rect x="983" y="8" width="2" height="1" fill="#000"/>
<rect x="983" y="41" width="2" height="1" fill="#000"/>
<rect x="983" y="74" width="2" height="1" fill="#000"/>
<rect x="983" y="107" width="2" height="1" fill="#000"/>
<rect x="983" y="140" width="2" height="1" fill="#000"/>
<rect x="983" y="173" width="2" height="1" fill="#000"/>
<rect x="983" y="206" width="2" height="1" fill="#000"/>
<rect x="983" y="239" width="2" height="1" fill="#000"/>
<rect x="983" y="272" width="2" height="1" fill="#000"/>
<rect x="983" y="305" width="2" height="1" fill="#000"/>
<rect x="983" y="338" width="2" height="1" fill="#000"/>
<rect x="983" y="371" width="2" height="1" fill="#000"/>
<rect x="983" y="404" width="2" height="1" fill="#000"/>
<rect x="983" y="437" width="2" height="1" fill="#000"/>
</g>
<text class="t" x="988.5" y="12" font-size="9.6" fill="#000" stroke="#000" stroke-width="0.2" textLength="32.5" lengthAdjust="spacingAndGlyphs">160.355</text>
<text class="t" x="988.5" y="45" font-size="9.6" fill="#000" stroke="#000" stroke-width="0.2" textLength="32.5" lengthAdjust="spacingAndGlyphs">159.200</text>
<text class="t" x="988.5" y="78" font-size="9.6" fill="#000" stroke="#000" stroke-width="0.2" textLength="32.5" lengthAdjust="spacingAndGlyphs">158.045</text>
<text class="t" x="988.5" y="111" font-size="9.6" fill="#000" stroke="#000" stroke-width="0.2" textLength="32.5" lengthAdjust="spacingAndGlyphs">156.890</text>
<text class="t" x="988.5" y="144" font-size="9.6" fill="#000" stroke="#000" stroke-width="0.2" textLength="32.5" lengthAdjust="spacingAndGlyphs">155.735</text>
<text class="t" x="988.5" y="177" font-size="9.6" fill="#000" stroke="#000" stroke-width="0.2" textLength="32.5" lengthAdjust="spacingAndGlyphs">154.545</text>
<text class="t" x="988.5" y="210" font-size="9.6" fill="#000" stroke="#000" stroke-width="0.2" textLength="32.5" lengthAdjust="spacingAndGlyphs">153.390</text>
<text class="t" x="988.5" y="243" font-size="9.6" fill="#000" stroke="#000" stroke-width="0.2" textLength="32.5" lengthAdjust="spacingAndGlyphs">152.235</text>
<text class="t" x="988.5" y="276" font-size="9.6" fill="#000" stroke="#000" stroke-width="0.2" textLength="32.5" lengthAdjust="spacingAndGlyphs">151.080</text>
<text class="t" x="988.5" y="309" font-size="9.6" fill="#000" stroke="#000" stroke-width="0.2" textLength="32.5" lengthAdjust="spacingAndGlyphs">149.925</text>
<text class="t" x="988.5" y="342" font-size="9.6" fill="#000" stroke="#000" stroke-width="0.2" textLength="32.5" lengthAdjust="spacingAndGlyphs">148.770</text>
<text class="t" x="988.5" y="375" font-size="9.6" fill="#000" stroke="#000" stroke-width="0.2" textLength="32.5" lengthAdjust="spacingAndGlyphs">147.580</text>
<text class="t" x="988.5" y="408" font-size="9.6" fill="#000" stroke="#000" stroke-width="0.2" textLength="32.5" lengthAdjust="spacingAndGlyphs">146.425</text>
<text class="t" x="988.5" y="441" font-size="9.6" fill="#000" stroke="#000" stroke-width="0.2" textLength="32.5" lengthAdjust="spacingAndGlyphs">145.270</text>
<rect x="984" y="32" width="41" height="11" fill="#000" shape-rendering="crispEdges"/>
<text class="t" x="988.5" y="41" font-size="9.6" fill="#fff" stroke="#fff" stroke-width="0.2" textLength="32.5" lengthAdjust="spacingAndGlyphs">159.338</text>
<rect x="984" y="136" width="41" height="11" fill="#ff0000" shape-rendering="crispEdges"/>
<text class="t" x="988.5" y="145" font-size="9.6" fill="#fff" stroke="#fff" stroke-width="0.2" textLength="32.5" lengthAdjust="spacingAndGlyphs">155.648</text>
<rect x="984" y="264" width="41" height="11" fill="#ff0000" shape-rendering="crispEdges"/>
<text class="t" x="988.5" y="273" font-size="9.6" fill="#fff" stroke="#fff" stroke-width="0.2" textLength="32.5" lengthAdjust="spacingAndGlyphs">151.152</text>
<rect x="984" y="393" width="41" height="11" fill="#ff0000" shape-rendering="crispEdges"/>
<text class="t" x="988.5" y="402" font-size="9.6" fill="#fff" stroke="#fff" stroke-width="0.2" textLength="32.5" lengthAdjust="spacingAndGlyphs">146.609</text>
<text class="t" x="35" y="35.5" font-size="24" fill="#404040">美日<tspan font-size="25" dy="-0.5">D1</tspan></text>
</svg></body></html>
